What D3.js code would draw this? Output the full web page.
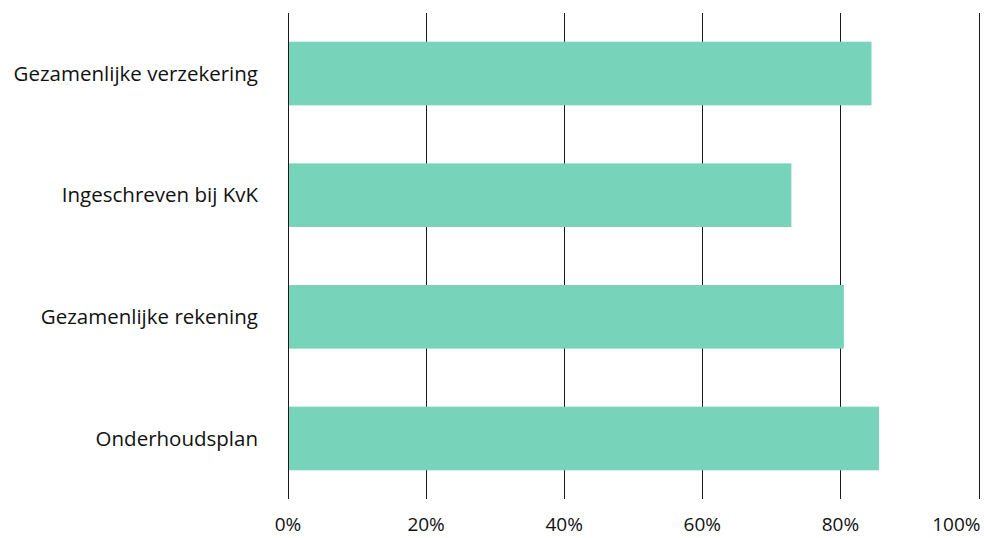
<!DOCTYPE html>
<html>
<head>
<meta charset="utf-8">
<script src="https://cdn.jsdelivr.net/npm/d3@7"></script>
<style>
  body { margin: 0; background: #fff; }
  svg { display: block; font-family: "Open Sans", sans-serif; }
</style>
</head>
<body>
<div id="Chart"></div>
<script>
const categories = ["Gezamenlijke verzekering", "Ingeschreven bij KvK", "Gezamenlijke rekening", "Onderhoudsplan"];
const values = [84.5, 72.9, 80.5, 85.6];
const ticks = [0, 20, 40, 60, 80, 100];

const W = 984, H = 538;
const dim = {left: 288, right: 978.5, top: 13, bottom: 499};

const svg = d3.select("#Chart").append("svg")
  .attr("width", W).attr("height", H);

const x = d3.scaleLinear().domain([0, 100]).range([dim.left, dim.right]);
const y = d3.scaleBand().domain(categories).range([dim.top, dim.bottom])
  .paddingInner(0.477).paddingOuter(0.236);

// grid lines
svg.append("g").selectAll("line").data(ticks).join("line")
  .attr("x1", d => Math.round(x(d)) + 0.5)
  .attr("x2", d => Math.round(x(d)) + 0.5)
  .attr("y1", dim.top)
  .attr("y2", dim.bottom)
  .attr("stroke", "#1a1a1a")
  .attr("stroke-width", 1);

// bars
svg.append("g").selectAll("rect").data(values).join("rect")
  .attr("x", x(0) + 1)
  .attr("y", (d, i) => y(categories[i]))
  .attr("width", d => x(d) - x(0) - 1)
  .attr("height", y.bandwidth())
  .attr("fill", "#77d3b9");

// category labels
svg.append("g").selectAll("text").data(categories).join("text")
  .attr("x", 258)
  .attr("y", d => y(d) + y.bandwidth() / 2)
  .attr("dy", "0.35em")
  .attr("text-anchor", "end")
  .attr("font-size", 20.5)
  .attr("fill", "#111")
  .text(d => d);

// tick labels (last one kept inside the frame)
svg.append("g").selectAll("text").data(ticks).join("text")
  .attr("x", (d, i) => i === ticks.length - 1 ? x(d) + 2 : x(d))
  .attr("y", 531)
  .attr("text-anchor", (d, i) => i === ticks.length - 1 ? "end" : "middle")
  .attr("font-size", 19)
  .attr("fill", "#111")
  .text(d => d + "%");
</script>
</body>
</html>
